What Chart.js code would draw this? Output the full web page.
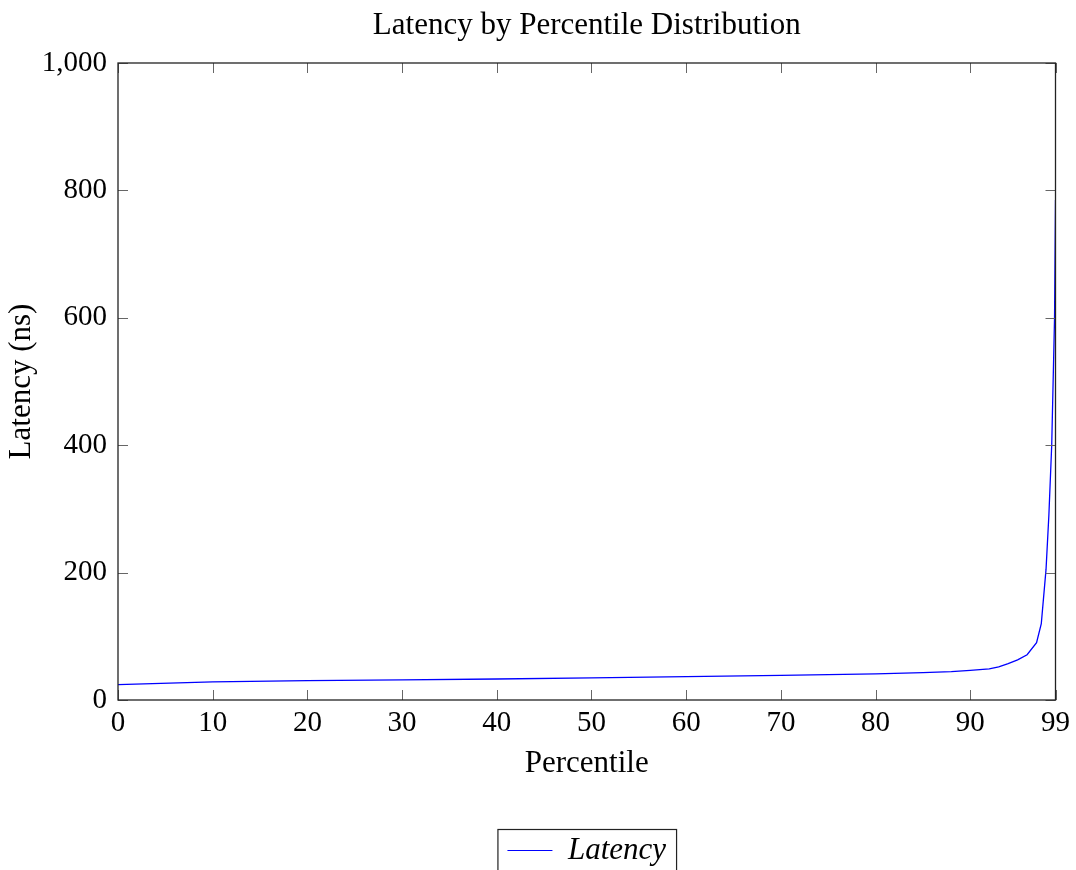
<!DOCTYPE html>
<html>
<head>
<meta charset="utf-8">
<title>Latency by Percentile Distribution</title>
<script src="https://cdn.jsdelivr.net/npm/chart.js@4/dist/chart.umd.min.js"></script>
<style>
    html, body { margin: 0; padding: 0; background: #fff; overflow: hidden; }
    #wrap { width: 1076px; height: 876px; position: relative; }
</style>
</head>
<body>
<div id="wrap"><canvas id="latency-chart"></canvas></div>
<script>
const percentiles = [0, 10, 20, 30, 40, 50, 60, 70, 80, 85, 88, 90, 92, 93, 94, 95, 96, 97, 97.5, 98, 98.3, 98.6, 98.9, 99];
const latencyNs = [24, 28.3, 30.5, 31.5, 33, 34.6, 36.7, 38.8, 41, 43, 44.5, 46.5, 49, 52, 57, 63, 71, 90, 120, 205, 290, 400, 600, 785];

// Tick labels on each axis
const xTicks = [0, 10, 20, 30, 40, 50, 60, 70, 80, 90, 99];
const yTicks = [0, 200, 400, 600, 800, 1000];

const serif = "'Liberation Serif', 'Times New Roman', serif";

// Draws the frame around the plot and the small inward ticks on all four sides
const frameAndTicks = {
    id: 'frameAndTicks',
    afterDraw(chart) {
        const ctx = chart.ctx;
        const area = chart.chartArea;
        const xs = chart.scales.x;
        const ys = chart.scales.y;
        const len = 10;

        ctx.save();
        ctx.strokeStyle = '#666';
        ctx.lineWidth = 1;
        ctx.beginPath();
        xTicks.forEach(function(v) {
            const px = Math.round(xs.getPixelForValue(v)) + 0.5;
            ctx.moveTo(px, area.bottom);
            ctx.lineTo(px, area.bottom - len);
            ctx.moveTo(px, area.top);
            ctx.lineTo(px, area.top + len);
        });
        yTicks.forEach(function(v) {
            const py = Math.round(ys.getPixelForValue(v)) + 0.5;
            ctx.moveTo(area.left, py);
            ctx.lineTo(area.left + len, py);
            ctx.moveTo(area.right, py);
            ctx.lineTo(area.right - len, py);
        });
        ctx.stroke();

        ctx.strokeStyle = '#222';
        ctx.lineWidth = 1.3;
        ctx.strokeRect(area.left, area.top, area.right - area.left, area.bottom - area.top);

        // box around the legend entry
        const box = chart.legend.legendHitBoxes[0];
        if (box) {
            ctx.strokeStyle = '#222';
            ctx.lineWidth = 1.2;
            ctx.strokeRect(box.left - 9.5, box.top - 5.5, box.width + 20, 60);
        }
        ctx.restore();
    }
};

function initializeChart() {
    const ctx = document.getElementById('latency-chart').getContext('2d');
    const points = percentiles.map(function(p, i) {
        return { x: p, y: latencyNs[i] };
    });

    new Chart(ctx, {
        type: 'line',
        data: {
            datasets: [{
                label: 'Latency',
                data: points,
                borderColor: '#0000ff',
                backgroundColor: '#0000ff',
                borderWidth: 1.3,
                pointRadius: 0,
                tension: 0,
                fill: false
            }]
        },
        options: {
            animation: false,
            responsive: true,
            maintainAspectRatio: false,
            layout: { padding: { right: 20 } },
            plugins: {
                title: {
                    display: true,
                    text: 'Latency by Percentile Distribution',
                    fullSize: false,
                    color: '#000',
                    font: { family: serif, size: 31, weight: 'normal' },
                    padding: { top: 7, bottom: 18.8 }
                },
                legend: {
                    position: 'bottom',
                    fullSize: false,
                    labels: {
                        color: '#000',
                        font: { family: serif, size: 31, style: 'italic' },
                        boxWidth: 45,
                        boxHeight: 1,
                        padding: 10,
                        generateLabels: function() {
                            return [{
                                text: 'Latency',
                                fillStyle: '#0000ff',
                                strokeStyle: '#0000ff',
                                lineWidth: 0,
                                hidden: false,
                                datasetIndex: 0,
                                fontColor: '#000'
                            }];
                        }
                    }
                },
                tooltip: { enabled: false }
            },
            scales: {
                x: {
                    type: 'linear',
                    min: 0,
                    max: 99,
                    afterBuildTicks: function(scale) {
                        scale.ticks = xTicks.map(function(v) { return { value: v }; });
                    },
                    afterFit: function(scale) { scale.height = 125; },
                    grid: { display: false, drawTicks: false },
                    border: { display: false },
                    ticks: {
                        color: '#000',
                        padding: 6,
                        maxRotation: 0,
                        autoSkip: false,
                        font: { family: serif, size: 29 }
                    },
                    title: {
                        display: true,
                        text: 'Percentile',
                        color: '#000',
                        font: { family: serif, size: 31 },
                        padding: { top: 4, bottom: 42.4 }
                    }
                },
                y: {
                    type: 'linear',
                    min: 0,
                    max: 1000,
                    afterBuildTicks: function(scale) {
                        scale.ticks = yTicks.map(function(v) { return { value: v }; });
                    },
                    afterFit: function(scale) { scale.width = 118; },
                    grid: { display: false, drawTicks: false },
                    border: { display: false },
                    ticks: {
                        color: '#000',
                        padding: 11,
                        font: { family: serif, size: 29 },
                        callback: function(v) { return v.toLocaleString('en-US'); }
                    },
                    title: {
                        display: true,
                        text: 'Latency (ns)',
                        color: '#000',
                        font: { family: serif, size: 31 },
                        padding: { top: 3.4, bottom: 4 }
                    }
                }
            }
        },
        plugins: [frameAndTicks]
    });
}

initializeChart();
</script>
</body>
</html>
